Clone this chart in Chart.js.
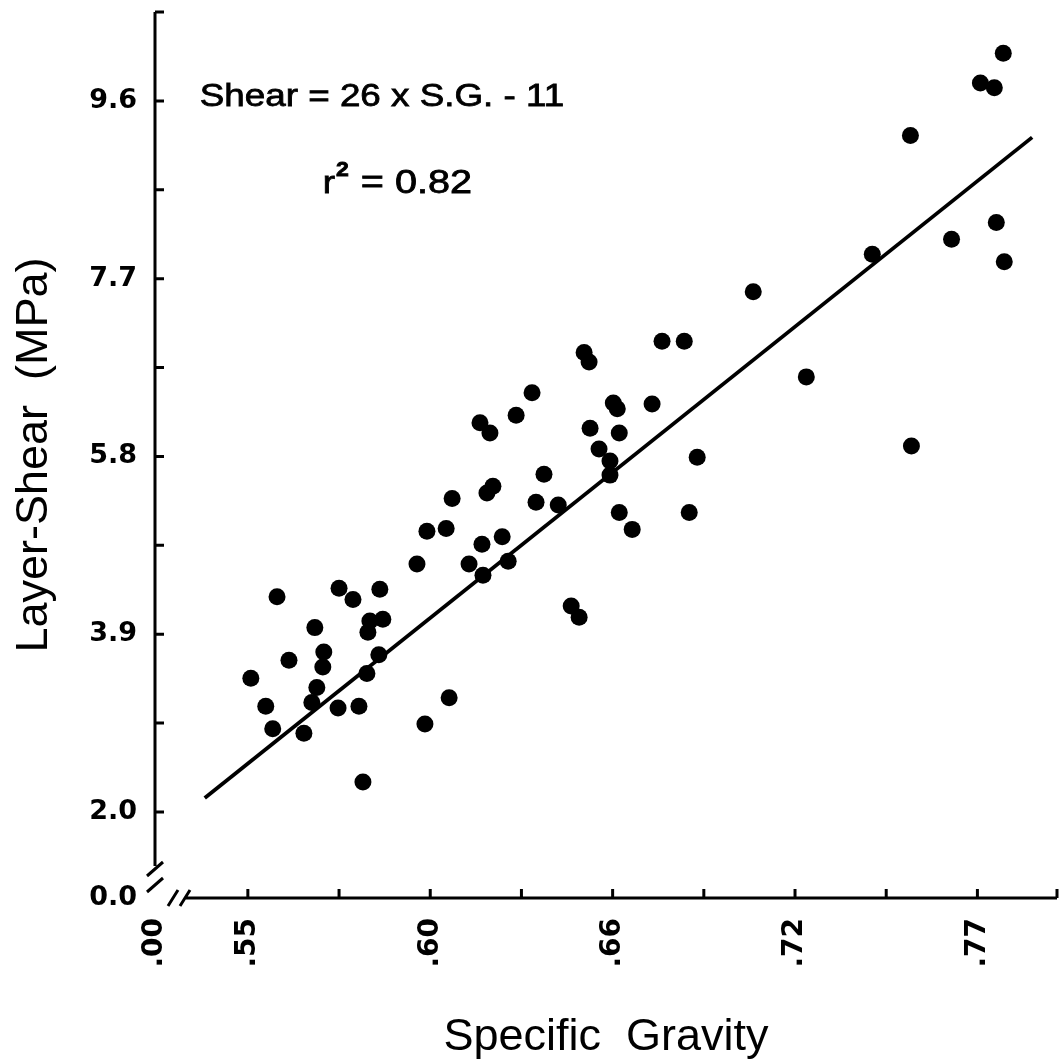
<!DOCTYPE html>
<html>
<head>
<meta charset="utf-8">
<script src="https://cdn.jsdelivr.net/npm/chart.js@4.4.1/dist/chart.umd.min.js"></script>
<style>
  body { margin: 0; background: #fff; }
  canvas { display: block; }
</style>
</head>
<body>
<canvas id="shearChart" width="1060" height="1060"></canvas>
<script>
// samples
const specificGravity = [
  0.5509, 0.5554, 0.5575, 0.5588, 0.5624, 0.5669, 0.5693, 0.5702, 0.5708, 0.5726,
  0.5729, 0.5772, 0.5775, 0.5817, 0.5835, 0.5847, 0.5859, 0.5862, 0.5868, 0.5895,
  0.5898, 0.5907, 0.6010, 0.6034, 0.6040, 0.6098, 0.6107, 0.6116, 0.6167, 0.6209,
  0.6206, 0.6200, 0.6221, 0.6230, 0.6239, 0.6267, 0.6285, 0.6309, 0.6357, 0.6369,
  0.6393, 0.6436, 0.6475, 0.6499, 0.6514, 0.6529, 0.6532, 0.6559, 0.6592, 0.6592,
  0.6602, 0.6614, 0.6620, 0.6620, 0.6659, 0.6719, 0.6749, 0.6816, 0.6831, 0.6855,
  0.7024, 0.7184, 0.7383, 0.7498, 0.7501, 0.7622, 0.7709, 0.7751, 0.7778, 0.7757,
  0.7781
];
const layerShear = [
  3.43, 3.13, 2.89, 4.30, 3.62, 2.84, 3.17, 3.97, 3.33, 3.55,
  3.71, 3.11, 4.39, 4.27, 3.13, 2.32, 3.48, 3.92, 4.04, 3.68,
  4.38, 4.06, 4.65, 2.94, 5.00, 5.03, 3.22, 5.35, 4.65, 4.53,
  4.86, 6.16, 5.41, 6.05, 5.48, 4.94, 4.68, 6.24, 6.48, 5.31,
  5.61, 5.28, 4.20, 4.08, 6.91, 6.81, 6.10, 5.88, 5.75, 5.60,
  6.37, 6.31, 6.05, 5.20, 5.02, 6.36, 7.03, 7.03, 5.20, 5.79,
  7.56, 6.65, 7.96, 9.23, 5.91, 8.12, 9.79, 9.74, 10.11, 8.30,
  7.88
];

// regression line ends as drawn
const fitSG = [0.5370, 0.7865];
const fitShear = [2.15, 9.21];

// axes (the first tick of each sits at the axis break)
const xTickValues = [0.522, 0.55, 0.605, 0.66, 0.715, 0.77];
const xTickLabels = ['.00', '.55', '.60', '.66', '.72', '.77'];
const xMinorTicks = [0.5775, 0.6325, 0.6875, 0.7425];
const yTickValues = [1.08, 2.0, 3.9, 5.8, 7.7, 9.6];
const yTickLabels = ['0.0', '2.0', '3.9', '5.8', '7.7', '9.6'];
const yMinorTicks = [2.95, 4.85, 6.75, 8.65];

const equationText = 'Shear = 26 x S.G. - 11';
const r2Value = '= 0.82';

function stretchedText(ctx, text, px, py, font, stretch) {
  ctx.save();
  ctx.translate(px, py);
  ctx.scale(stretch, 1);
  ctx.font = font;
  ctx.fillText(text, 0, 0);
  ctx.strokeText(text, 0, 0);
  const w = ctx.measureText(text).width * stretch;
  ctx.restore();
  return w;
}

const axisFrame = {
  id: 'axisFrame',
  afterDraw(chart) {
    const { ctx, chartArea: { left, right, top, bottom }, scales: { x, y } } = chart;
    ctx.save();
    ctx.strokeStyle = '#000';
    ctx.lineWidth = 3;
    ctx.beginPath();
    ctx.moveTo(left, top);
    ctx.lineTo(left, bottom - 32);
    ctx.moveTo(left + 30, bottom);
    ctx.lineTo(right, bottom);

    // tick marks point inwards
    yTickValues.slice(1).concat(yMinorTicks, [y.max]).forEach(v => {
      const p = y.getPixelForValue(v);
      ctx.moveTo(left, p);
      ctx.lineTo(left + 9, p);
    });
    xTickValues.slice(1).concat(xMinorTicks, [x.max]).forEach(v => {
      const p = x.getPixelForValue(v);
      ctx.moveTo(p, bottom);
      ctx.lineTo(p, bottom - 9);
    });

    // axis breaks
    ctx.moveTo(left - 8, bottom - 22);
    ctx.lineTo(left + 8, bottom - 36);
    ctx.moveTo(left - 8, bottom - 6);
    ctx.lineTo(left + 8, bottom - 20);
    ctx.moveTo(left + 13, bottom + 8);
    ctx.lineTo(left + 23, bottom - 8);
    ctx.moveTo(left + 25, bottom + 8);
    ctx.lineTo(left + 35, bottom - 8);
    ctx.stroke();

    // equation and r^2, stretched like the original lettering
    ctx.fillStyle = '#000';
    ctx.lineWidth = 0.8;
    ctx.textBaseline = 'alphabetic';
    ctx.textAlign = 'left';
    const font = '32px "Liberation Sans", Arial, sans-serif';
    const stretch = 1.15;

    stretchedText(ctx, equationText, x.getPixelForValue(0.5355), y.getPixelForValue(9.55), font, stretch);

    let rx = x.getPixelForValue(0.5726);
    const ry = y.getPixelForValue(8.62);
    rx += stretchedText(ctx, 'r', rx, ry, font, stretch) + 1;
    rx += stretchedText(ctx, '2', rx, ry - 17, 'bold 20px "Liberation Sans", Arial, sans-serif', stretch) + 12;
    stretchedText(ctx, r2Value, rx, ry, '33px "Liberation Sans", Arial, sans-serif', 1.2);
    ctx.restore();
  }
};

const tickFontX = { family: '"DejaVu Sans", sans-serif', size: 28, weight: 'bold' };
const tickFontY = { family: '"DejaVu Sans", sans-serif', size: 27, weight: 'bold' };
const titleFont = { family: '"Liberation Sans", Arial, sans-serif', size: 45, weight: 'normal', lineHeight: 1 };

new Chart(document.getElementById('shearChart'), {
  type: 'scatter',
  data: {
    datasets: [
      {
        label: 'Samples',
        data: specificGravity.map((sg, i) => ({ x: sg, y: layerShear[i] })),
        pointRadius: 8.5,
        pointHoverRadius: 8.5,
        backgroundColor: '#000',
        borderWidth: 0
      },
      {
        label: 'Fit',
        type: 'line',
        data: fitSG.map((sg, i) => ({ x: sg, y: fitShear[i] })),
        borderColor: '#000',
        borderWidth: 3.8,
        pointRadius: 0,
        fill: false
      }
    ]
  },
  options: {
    responsive: false,
    animation: false,
    layout: { autoPadding: false, padding: { top: 12, right: 3, left: 0, bottom: 0 } },
    plugins: {
      legend: { display: false },
      tooltip: { enabled: false }
    },
    scales: {
      x: {
        type: 'linear',
        min: 0.522,
        max: 0.794,
        afterBuildTicks: s => { s.ticks = xTickValues.map(v => ({ value: v })); },
        afterFit: s => { s.height = 162; s.paddingLeft = 0; s.paddingRight = 0; },
        grid: { display: false, drawTicks: false },
        border: { display: false },
        ticks: {
          autoSkip: false,
          minRotation: 90,
          maxRotation: 90,
          padding: 20,
          color: '#000',
          font: tickFontX,
          callback: (v, i) => xTickLabels[i]
        },
        title: {
          display: true,
          text: 'Specific  Gravity',
          color: '#000',
          font: titleFont,
          padding: { top: 0, bottom: 0 }
        }
      },
      y: {
        type: 'linear',
        min: 1.08,
        max: 10.55,
        afterBuildTicks: s => { s.ticks = yTickValues.map(v => ({ value: v })); },
        afterFit: s => { s.width = 155; s.paddingTop = 0; s.paddingBottom = 0; },
        grid: { display: false, drawTicks: false },
        border: { display: false },
        ticks: {
          autoSkip: false,
          padding: 18,
          color: '#000',
          font: tickFontY,
          callback: (v, i) => yTickLabels[i]
        },
        title: {
          display: true,
          text: 'Layer-Shear  (MPa)',
          color: '#000',
          font: titleFont,
          padding: { top: 12, bottom: 0 }
        }
      }
    }
  },
  plugins: [axisFrame]
});
</script>
</body>
</html>
